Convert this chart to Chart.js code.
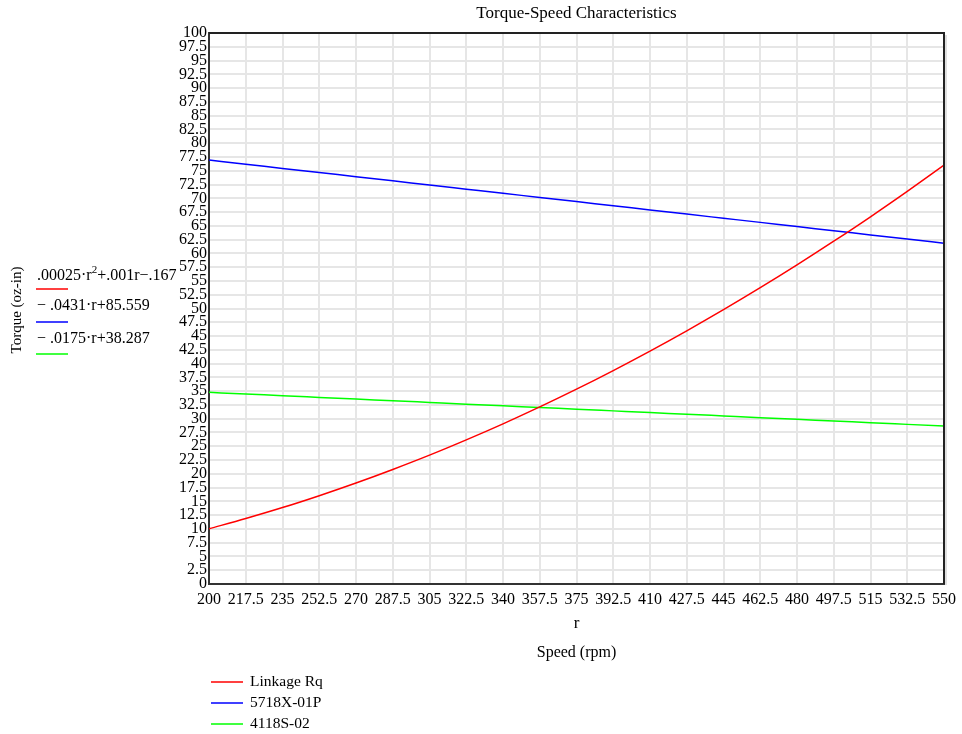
<!DOCTYPE html>
<html>
<head>
<meta charset="utf-8">
<script src="https://cdn.jsdelivr.net/npm/chart.js@4.4.1/dist/chart.umd.min.js"></script>
<style>
  html, body { margin:0; padding:0; background:#fff; }
  #wrap { width:962px; height:734px; position:relative; }
</style>
</head>
<body>
<div id="wrap"><canvas id="chart" width="962" height="734"></canvas></div>
<script>
const FONT = '"Liberation Serif", "Times New Roman", serif';

// speed (rpm) at every grid step
const speeds = [200, 217.5, 235, 252.5, 270, 287.5, 305, 322.5, 340, 357.5, 375,
                392.5, 410, 427.5, 445, 462.5, 480, 497.5, 515, 532.5, 550];

const linkageRq = [10.03, 11.88, 13.87, 16.03, 18.33, 20.79, 23.39, 26.16, 29.07, 32.14, 35.36,
                   38.74, 42.27, 45.95, 49.78, 53.77, 57.91, 62.21, 66.65, 71.26, 76.01];
const motor5718 = [76.94, 76.19, 75.43, 74.68, 73.92, 73.17, 72.41, 71.66, 70.91, 70.15, 69.40,
                   68.64, 67.89, 67.13, 66.38, 65.63, 64.87, 64.12, 63.36, 62.61, 61.85];
const motor4118 = [34.79, 34.48, 34.18, 33.87, 33.56, 33.26, 32.95, 32.64, 32.34, 32.03, 31.73,
                   31.42, 31.11, 30.81, 30.50, 30.19, 29.89, 29.58, 29.28, 28.97, 28.66];

const seriesNames  = ['Linkage Rq', '5718X-01P', '4118S-02'];
const seriesColors = ['#ff0000', '#0000ff', '#00ff00'];
const formulas = [
  ['.00025\u00b7r', '2', '+.001r\u2212.167'],
  ['\u2212 .0431\u00b7r+85.559'],
  ['\u2212 .0175\u00b7r+38.287']
];

const xTicks = { min:200, max:550, step:17.5 };
const yTicks = { min:0, max:100, step:2.5 };

const pts = ys => speeds.map((x, i) => ({ x, y: ys[i] }));
const fmt = v => String(Number(v.toFixed(2)));

const decor = {
  id:'decor',
  afterDatasetsDraw(chart) {
    const { ctx, chartArea:a } = chart;
    ctx.save();
    // frame top + right
    ctx.strokeStyle = '#222';
    ctx.lineWidth = 2;
    ctx.beginPath();
    ctx.moveTo(a.left, a.top); ctx.lineTo(a.right, a.top); ctx.lineTo(a.right, a.bottom);
    ctx.stroke();
    ctx.strokeStyle = 'rgba(0,0,0,.25)';
    ctx.lineWidth = 1;
    ctx.beginPath();
    ctx.moveTo(a.right + 2, a.top + 2); ctx.lineTo(a.right + 2, a.bottom + 1);
    ctx.stroke();

    ctx.fillStyle = '#000';
    ctx.textAlign = 'center';
    ctx.textBaseline = 'middle';
    const cx = (a.left + a.right) / 2;
    ctx.font = `17px ${FONT}`;
    ctx.fillText('Torque-Speed Characteristics', cx, 14);
    ctx.font = `17px ${FONT}`;
    ctx.fillText('r', cx, 624);
    ctx.font = `16px ${FONT}`;
    ctx.fillText('Speed (rpm)', cx, 653);

    // y title
    ctx.save();
    ctx.translate(17, 310);
    ctx.rotate(-Math.PI / 2);
    ctx.font = `15px ${FONT}`;
    ctx.fillText('Torque (oz-in)', 0, 0);
    ctx.restore();

    // formula legend (left)
    ctx.textAlign = 'left';
    const fy = [276, 306, 339];
    const ly = [289, 322, 354];
    formulas.forEach((parts, i) => {
      let x = 37;
      parts.forEach((p, j) => {
        const sup = parts.length === 3 && j === 1;
        ctx.font = sup ? `11px ${FONT}` : `16px ${FONT}`;
        ctx.fillText(p, x, sup ? fy[i] - 6 : fy[i]);
        x += ctx.measureText(p).width;
      });
      ctx.strokeStyle = seriesColors[i];
      ctx.lineWidth = 1.5;
      ctx.beginPath(); ctx.moveTo(36, ly[i]); ctx.lineTo(68, ly[i]); ctx.stroke();
    });

    // bottom legend
    const by = [682, 703, 724];
    seriesNames.forEach((n, i) => {
      ctx.strokeStyle = seriesColors[i];
      ctx.lineWidth = 1.5;
      ctx.beginPath(); ctx.moveTo(211, by[i]); ctx.lineTo(243, by[i]); ctx.stroke();
      ctx.font = `15.5px ${FONT}`;
      ctx.fillText(n, 250, by[i]);
    });
    ctx.restore();
  }
};

new Chart(document.getElementById('chart'), {
  type:'line',
  data:{
    datasets:[
      { label:seriesNames[0], data:pts(linkageRq), borderColor:seriesColors[0] },
      { label:seriesNames[1], data:pts(motor5718), borderColor:seriesColors[1] },
      { label:seriesNames[2], data:pts(motor4118), borderColor:seriesColors[2] }
    ].map(d => ({ ...d, borderWidth:1.5, pointRadius:0, cubicInterpolationMode:'monotone', fill:false }))
  },
  options:{
    responsive:false,
    animation:false,
    layout:{ padding:{ left:0, right:17, top:33, bottom:0 } },
    plugins:{ legend:{ display:false }, tooltip:{ enabled:false } },
    scales:{
      x:{
        type:'linear', min:xTicks.min, max:xTicks.max,
        afterFit: s => { s.height = 150; },
        grid:{ color:'#e6e6e6', lineWidth:2, drawTicks:false },
        border:{ color:'#333', width:2 },
        ticks:{ stepSize:xTicks.step, autoSkip:false, maxRotation:0, padding:6,
                color:'#000', font:{ family:FONT, size:16 }, callback:fmt }
      },
      y:{
        type:'linear', min:yTicks.min, max:yTicks.max,
        afterFit: s => { s.width = 209; },
        grid:{ color:'#e6e6e6', lineWidth:2, drawTicks:false },
        border:{ color:'#333', width:2 },
        ticks:{ stepSize:yTicks.step, autoSkip:false, padding:2,
                color:'#000', font:{ family:FONT, size:16 }, callback:fmt }
      }
    }
  },
  plugins:[decor]
});
</script>
</body>
</html>
